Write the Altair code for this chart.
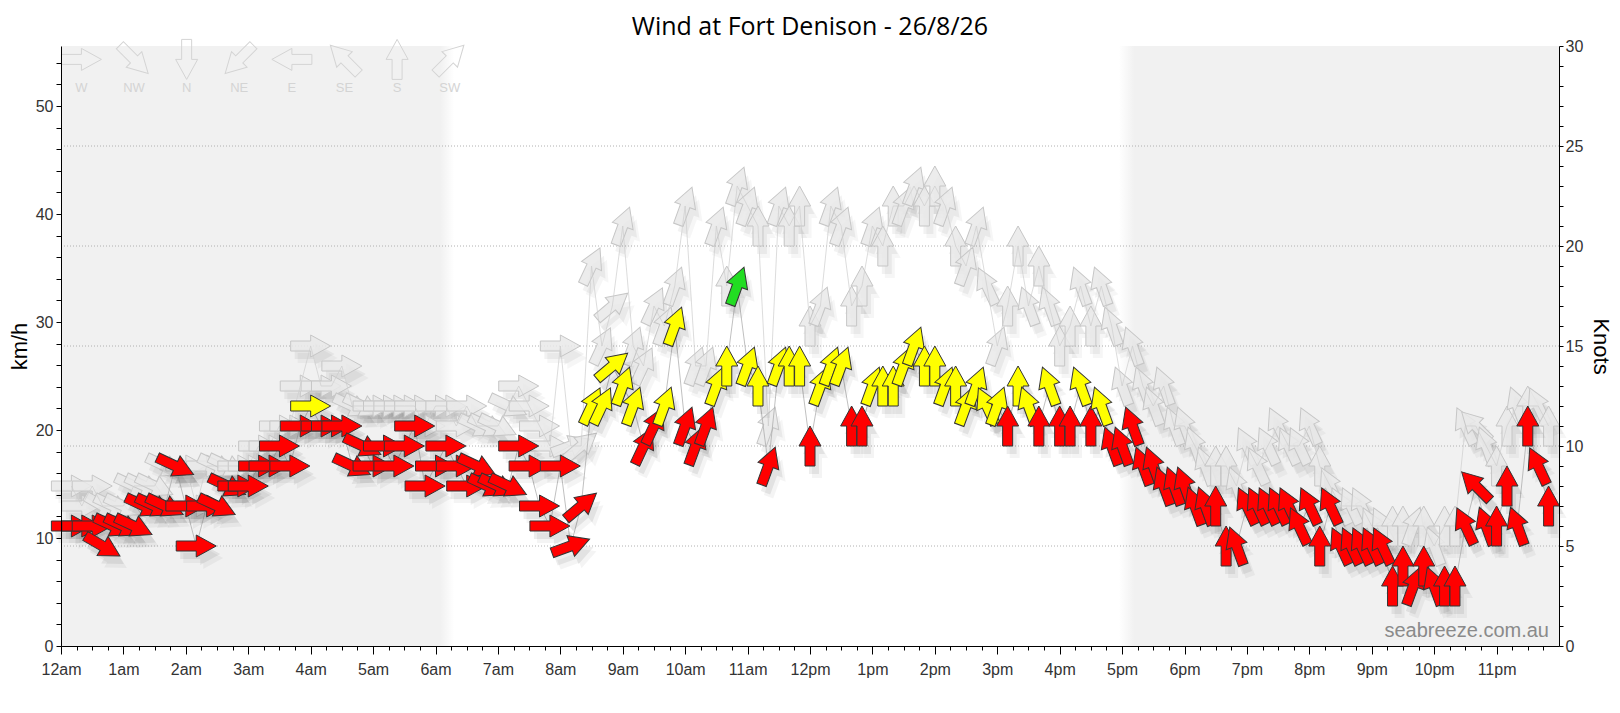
import altair as alt
import pandas as pd

# ---------------- data (10-minute observations, knots) ----------------
obs_minutes = list(range(10, 1440, 10))  # 00:10 ... 23:50

avg_knots = [
    6, 6, 6, 5, 6, 6, 6, 7, 7, 7,
    9, 7, 5, 7, 7, 8, 8, 8, 9, 9,
    10, 9, 11, 12, 11, 11, 11, 9, 10, 9,
    10, 9, 10, 11, 8, 9, 10, 9, 8, 9,
    8, 8, 8, 10, 9, 7, 6, 9, 5, 7,
    12, 12, 14, 13, 12, 10, 11, 12, 16, 11,
    10, 11, 13, 14, 18, 14, 13, 9, 14, 14,
    14, 10, 13, 14, 14, 11, 11, 13, 13, 13,
    14, 15, 14, 14, 13, 13, 12, 13, 12, 12,
    11, 13, 12, 11, 13, 11, 11, 13, 11, 12,
    10, 10, 11, 9, 9, 8, 8, 8, 7, 7,
    7, 5, 5, 7, 7, 7, 7, 7, 6, 7,
    5, 7, 5, 5, 5, 5, 5, 3, 4, 3,
    4, 3, 3, 3, 6, 8, 6, 6, 8, 6,
    11, 9, 7,
]

gust_knots = [
    8, 7, 8, 7, 7, 7, 8, 8, 8, 9,
    9, 9, 7, 9, 9, 9, 9, 9, 10, 10,
    11, 11, 13, 15, 13, 13, 14, 12, 12, 12,
    12, 12, 12, 12, 11, 12, 12, 11, 12, 11,
    11, 11, 12, 13, 12, 11, 10, 15, 10, 10,
    19, 15, 17, 21, 15, 14, 17, 16, 18, 22,
    14, 14, 21, 18, 23, 22, 21, 11, 22, 21,
    22, 16, 17, 22, 21, 17, 18, 21, 20, 22,
    22, 23, 22, 23, 22, 20, 19, 21, 18, 15,
    17, 20, 17, 19, 17, 15, 16, 18, 16, 18,
    16, 13, 15, 13, 12, 13, 11, 11, 10, 9,
    9, 9, 8, 10, 9, 10, 11, 10, 10, 11,
    9, 8, 7, 7, 7, 6, 6, 6, 6, 6,
    6, 5, 6, 6, 11, 11, 10, 9, 11, 12,
    12, 12, 11,
]

# direction the wind blows FROM (degrees)
wind_from_deg = [
    270, 270, 270, 300, 295, 295, 295, 295, 295, 295,
    295, 270, 270, 270, 295, 295, 270, 270, 270, 270,
    270, 270, 270, 270, 270, 270, 270, 295, 295, 270,
    270, 270, 270, 270, 270, 270, 270, 270, 270, 295,
    295, 295, 295, 270, 270, 270, 270, 270, 250, 230,
    205, 205, 230, 200, 200, 205, 205, 200, 200, 200,
    200, 200, 200, 180, 200, 200, 180, 200, 200, 180,
    180, 180, 200, 200, 200, 180, 180, 200, 180, 180,
    200, 200, 180, 180, 200, 180, 200, 200, 155, 200,
    180, 180, 160, 180, 160, 180, 180, 160, 180, 160,
    160, 160, 160, 160, 160, 160, 160, 160, 160, 160,
    180, 180, 160, 155, 155, 155, 155, 155, 155, 155,
    180, 155, 155, 155, 155, 155, 155, 180, 180, 200,
    180, 160, 180, 180, 155, 135, 160, 180, 180, 160,
    180, 155, 180,
]

legend_labels = ["W", "NW", "N", "NE", "E", "SE", "S", "SW"]
legend_from_deg = [270, 315, 0, 45, 90, 135, 180, 225]

grid_knots = [5, 10, 15, 20, 25]
night_start_h = [0.0, 16.95]
night_end_h = [6.3, 24.0]

KMH_PER_KNOT = 1.852
FONT = "Liberation Sans"
ARROW = "M0,-1L0.55,0L0.25,0L0.25,1L-0.25,1L-0.25,0L-0.55,0Z"

df = pd.DataFrame({"m": obs_minutes, "avg": avg_knots, "gust": gust_knots, "src": wind_from_deg})
df["h"] = df["m"] / 60.0
df["heading"] = (df["src"] + 180) % 360
df["band"] = ["high" if v >= 18 else ("mid" if v >= 12 else "low") for v in df["avg"]]

leg = pd.DataFrame({"lab": legend_labels, "src": legend_from_deg})
leg["h"] = [0.327 + i * 0.843 for i in range(len(leg))]
leg["heading"] = (leg["src"] + 180) % 360
leg["ay"] = 29.33
leg["ty"] = 27.92

# ---------------- scales & axes ----------------
xscale = alt.Scale(domain=[0, 24], nice=False, zero=False)
yscale = alt.Scale(domain=[0, 30], nice=False, zero=False)

x_label_expr = (
    "datum.value % 1 != 0 ? '' : (datum.value == 0 ? '12am' : "
    "(datum.value < 12 ? datum.value + 'am' : (datum.value == 12 ? '12pm' : (datum.value - 12) + 'pm')))"
)
x_axis = alt.Axis(
    values=[i / 4 for i in range(96)],
    labelExpr=x_label_expr,
    tickSize={"condition": {"test": "datum.value % 1 == 0", "value": 8}, "value": 4},
    labelFont=FONT, labelFontSize=16, labelColor="#333",
    labelPadding=7, labelFlush=False, labelOverlap=False,
    tickColor="#000", domainColor="#000", grid=False, title=None, zindex=1,
)

kmh_ticks = [v / KMH_PER_KNOT for v in range(0, 56, 2)]
y_left_axis = alt.Axis(
    orient="left", values=kmh_ticks,
    labelExpr="round(datum.value * 1.852) % 10 == 0 ? format(round(datum.value * 1.852), 'd') : ''",
    tickSize=5, labelPadding=3, labelFont=FONT, labelFontSize=16, labelColor="#333",
    tickColor="#000", domainColor="#000", grid=False, labelOverlap=False, zindex=1,
    title="km/h", titleFont=FONT, titleFontSize=22, titleFontWeight="normal", titleColor="#000",
    titleAngle=-90, titleX=-42, titleY=300, titleAlign="center", titleBaseline="middle",
)
y_right_axis = alt.Axis(
    orient="right", values=list(range(0, 31)),
    labelExpr="datum.value % 5 == 0 ? datum.label : ''",
    tickSize=4, labelPadding=2, labelFont=FONT, labelFontSize=16, labelColor="#333",
    tickColor="#000", domainColor="#000", grid=False, labelOverlap=False, zindex=1,
    title="Knots", titleFont=FONT, titleFontSize=22, titleFontWeight="normal", titleColor="#000",
    titleAngle=90, titleX=41, titleY=300, titleAlign="center", titleBaseline="middle",
)


def X(f):
    return alt.X(f"{f}:Q", scale=xscale, axis=x_axis)


def Y(f):
    return alt.Y(f"{f}:Q", scale=yscale, axis=y_left_axis)


ANG = alt.Angle("heading:Q", scale=None)

# ---------------- layers ----------------
bg_morning = alt.Chart(pd.DataFrame({"a": [night_start_h[0]], "b": [night_end_h[0]]})).mark_rect(
    color=alt.Gradient(
        gradient="linear", x1=0, x2=1, y1=0, y2=0,
        stops=[alt.GradientStop(color="#f1f1f1", offset=0),
               alt.GradientStop(color="#f1f1f1", offset=0.965),
               alt.GradientStop(color="#ffffff", offset=1)],
    )
).encode(x=X("a"), x2="b", y=alt.value(0), y2=alt.value(600))

bg_evening = alt.Chart(pd.DataFrame({"a": [night_start_h[1]], "b": [night_end_h[1]]})).mark_rect(
    color=alt.Gradient(
        gradient="linear", x1=0, x2=1, y1=0, y2=0,
        stops=[alt.GradientStop(color="#ffffff", offset=0),
               alt.GradientStop(color="#f1f1f1", offset=0.035),
               alt.GradientStop(color="#f1f1f1", offset=1)],
    )
).encode(x=X("a"), x2="b", y=alt.value(0), y2=alt.value(600))

grid = alt.Chart(pd.DataFrame({"g": grid_knots})).mark_rule(
    color="#b0b0b0", strokeDash=[1, 2], strokeWidth=1
).encode(y=Y("g"))

base = alt.Chart(df)

gust_sh1 = base.mark_point(shape=ARROW, filled=True, size=1600, color="#000", opacity=0.05,
                           strokeWidth=0, xOffset=4, yOffset=8).encode(x=X("h"), y=Y("gust"), angle=ANG)
gust_sh2 = base.mark_point(shape=ARROW, filled=True, size=1600, color="#000", opacity=0.035,
                           strokeWidth=0, xOffset=7, yOffset=12).encode(x=X("h"), y=Y("gust"), angle=ANG)
gust_arrows = base.mark_point(shape=ARROW, filled=True, size=1600, fill="#e9e9e9", fillOpacity=0.85,
                              stroke="#c6c6c6", strokeWidth=1, opacity=1).encode(
    x=X("h"), y=Y("gust"), angle=ANG)
gust_line = base.mark_line(color="#cdcdcd", strokeWidth=0.7).encode(x=X("h"), y=Y("gust"), order="h:Q")
avg_line = base.mark_line(color="#a5a5a5", strokeWidth=0.7).encode(x=X("h"), y=Y("avg"), order="h:Q")

avg_sh1 = base.mark_point(shape=ARROW, filled=True, size=1600, color="#000", opacity=0.07,
                          strokeWidth=0, xOffset=4, yOffset=8).encode(x=X("h"), y=Y("avg"), angle=ANG)
avg_sh2 = base.mark_point(shape=ARROW, filled=True, size=1600, color="#000", opacity=0.045,
                          strokeWidth=0, xOffset=7, yOffset=12).encode(x=X("h"), y=Y("avg"), angle=ANG)
avg_arrows = base.mark_point(shape=ARROW, filled=True, size=1600, stroke="#333", strokeWidth=1,
                             opacity=1).encode(
    x=X("h"), y=Y("avg"), angle=ANG,
    color=alt.Color("band:N", scale=alt.Scale(domain=["low", "mid", "high"],
                                              range=["#ff0000", "#ffff00", "#22dd22"]), legend=None),
)

leg_arrows = alt.Chart(leg).mark_point(shape=ARROW, filled=False, size=1600, stroke="#d4d4d4",
                                       strokeWidth=1, opacity=1).encode(x=X("h"), y=Y("ay"), angle=ANG)
leg_text = alt.Chart(leg).mark_text(font=FONT, fontSize=13, color="#d4d4d4", baseline="middle").encode(
    x=X("h"), y=Y("ty"), text="lab:N")

watermark = alt.Chart(pd.DataFrame({"t": ["seabreeze.com.au"]})).mark_text(
    align="right", baseline="alphabetic", font=FONT, fontSize=20, color="#8a8a8a"
).encode(x=alt.value(1488), y=alt.value(591), text="t:N")

main = alt.layer(bg_morning, bg_evening, grid, gust_sh1, gust_sh2, gust_arrows, gust_line, avg_line,
                 avg_sh1, avg_sh2, avg_arrows, leg_arrows, leg_text, watermark)

right = alt.Chart(pd.DataFrame({"g": grid_knots})).mark_rule(opacity=0).encode(
    y=alt.Y("g:Q", scale=yscale, axis=y_right_axis))

chart = alt.layer(main, right).resolve_scale(y="independent").properties(
    width=1498, height=600,
    title=alt.Title("Wind at Fort Denison - 26/8/26", font="Open Sans", fontSize=25,
                    fontWeight="normal", color="#000", anchor="middle", frame="group",
                    offset=0, dy=3),
    padding={"left": 53, "top": 38, "right": 53, "bottom": 50},
    autosize=alt.AutoSizeParams(type="none"),
).configure_view(stroke=None)

chart.save("out.html", embed_options={"renderer": "svg", "actions": False})
